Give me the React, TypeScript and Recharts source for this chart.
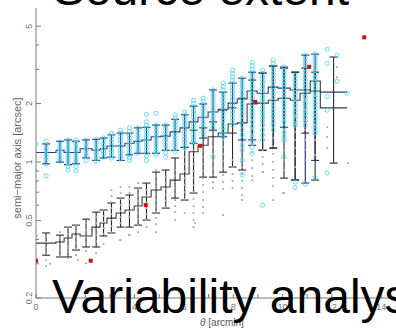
import React from "react";
import { ComposedChart, XAxis, YAxis, Scatter, Line, ErrorBar } from "recharts";

// bins in theta (arcmin)
const binEdges = [0, 0.81, 1.14, 1.46, 1.79, 2.27, 2.6, 2.88, 3.25, 3.61, 3.98, 4.3, 4.67, 5.07, 5.44, 5.84, 6.21, 6.57, 6.98, 7.39, 7.79, 8.16, 8.56, 8.97, 9.42, 9.82, 10.31, 10.71, 11.12, 11.53, 12.62];
const binCenters = [0.41, 0.97, 1.3, 1.62, 2.03, 2.44, 2.74, 3.06, 3.43, 3.79, 4.14, 4.48, 4.87, 5.26, 5.64, 6.03, 6.39, 6.78, 7.18, 7.59, 7.97, 8.36, 8.77, 9.19, 9.62, 10.06, 10.51, 10.92, 11.32, 12.07];

// extended sources (cyan / navy)
const extMedian = [1.12, 1.15, 1.12, 1.12, 1.17, 1.15, 1.17, 1.21, 1.21, 1.25, 1.28, 1.3, 1.35, 1.36, 1.43, 1.5, 1.61, 1.7, 1.81, 1.87, 2.01, 2.11, 2.32, 2.26, 2.43, 2.4, 2.35, 2.35, 2.32, 2.29];
const extHigh = [1.24, 1.28, 1.3, 1.28, 1.3, 1.31, 1.33, 1.38, 1.41, 1.41, 1.5, 1.51, 1.55, 1.55, 1.66, 1.75, 1.94, 1.99, 2.35, 2.29, 2.55, 2.7, 2.9, 2.87, 3.12, 3.08, 2.9, 3.55, 3.59, null];
const extLow = [0.98, 1.0, 0.97, 0.98, 1.05, 1.02, 1.05, 1.06, 1.02, 1.09, 1.11, 1.11, 1.11, 1.15, 1.15, 1.19, 1.25, 1.33, 1.46, 1.35, 1.41, 1.3, 1.3, 1.15, 1.18, 1.51, 0.81, 0.78, 1.02, null];

// point-like sources (gray / black)
const refMedian = [0.383, 0.388, 0.407, 0.427, 0.417, 0.463, 0.486, 0.515, 0.547, 0.567, 0.594, 0.661, 0.718, 0.744, 0.808, 0.868, 1.13, 1.22, 1.35, 1.41, 1.57, 1.59, 1.99, 2.01, 2.08, 2.13, 2.08, 2.26, 2.61, 1.9];
const refHigh = [0.432, 0.421, 0.463, 0.474, 0.509, 0.553, 0.567, 0.616, 0.653, 0.677, 0.735, 0.78, 0.888, 0.91, 1.05, 1.19, 1.46, 1.5, 1.61, 1.85, 1.9, 2.13, 2.64, 2.87, 3.12, 3.04, 2.9, 3.04, 2.9, 3.47];
const refLow = [0.332, 0.325, 0.325, 0.353, 0.366, 0.366, 0.417, 0.432, 0.463, 0.463, 0.474, 0.503, 0.547, 0.58, 0.653, 0.638, 0.693, 0.837, 0.837, 0.888, 0.943, 0.91, 1.22, 1.15, 1.18, 0.827, 0.808, 1.41, 0.808, 0.988];

const cyanColumns = [
  [1.28, 1.23, 1.18, 1.14, 1.1, 1.06, 1.02, 0.98, 0.85],
  [1.27, 1.22, 1.17, 1.13, 1.09, 1.05, 1.01],
  [1.3, 1.25, 1.2, 1.15, 1.11, 1.07, 1.03, 0.99, 0.95, 0.91],
  [1.3, 1.25, 1.2, 1.15, 1.11, 1.07, 1.03, 0.99, 0.95, 0.9],
  [1.3, 1.25, 1.2, 1.15, 1.11, 1.07, 1.02],
  [1.31, 1.26, 1.21, 1.16, 1.12, 1.08, 1.04, 1.01],
  [1.33, 1.28, 1.23, 1.18, 1.14, 1.1, 1.06],
  [1.41, 1.36, 1.31, 1.26, 1.21, 1.16, 1.12, 1.08, 1.05],
  [1.46, 1.4, 1.35, 1.3, 1.25, 1.2, 1.15, 1.11, 1.07, 1.04],
  [1.5, 1.44, 1.38, 1.33, 1.28, 1.23, 1.18, 1.13, 1.09, 1.05, 1.02],
  [1.5, 1.44, 1.38, 1.33, 1.28, 1.23, 1.18, 1.14, 1.11],
  [1.76, 1.61, 1.55, 1.49, 1.43, 1.37, 1.32, 1.27, 1.22, 1.17, 1.12, 1.07, 1.02],
  [1.78, 1.55, 1.49, 1.43, 1.37, 1.32, 1.27, 1.22, 1.17, 1.13, 1.09],
  [1.55, 1.49, 1.43, 1.37, 1.32, 1.27, 1.22, 1.17, 1.12, 1.06],
  [1.75, 1.68, 1.61, 1.55, 1.49, 1.43, 1.37, 1.32, 1.27, 1.22, 1.17, 1.13],
  [1.81, 1.74, 1.67, 1.6, 1.54, 1.48, 1.42, 1.36, 1.31, 1.26, 1.21, 1.18],
  [2.08, 2.0, 1.92, 1.84, 1.77, 1.7, 1.63, 1.57, 1.51, 1.45, 1.39, 1.34, 1.29, 1.25],
  [2.13, 2.05, 1.97, 1.89, 1.82, 1.75, 1.68, 1.61, 1.55, 1.49, 1.43, 1.38],
  [2.35, 2.26, 2.17, 2.08, 2.0, 1.92, 1.84, 1.77, 1.7, 1.63, 1.57, 1.51, 1.06],
  [2.55, 2.45, 2.35, 2.26, 2.17, 2.08, 2.0, 1.92, 1.84, 1.77, 1.7, 1.63, 1.57, 1.51, 1.45, 1.39, 1.35],
  [2.97, 2.85, 2.74, 2.63, 2.53, 2.43, 2.33, 2.24, 2.15, 2.07, 1.99, 1.91, 1.83, 1.76, 1.69, 1.62, 1.55],
  [2.7, 2.59, 2.49, 2.39, 2.29, 2.2, 2.11, 2.03, 1.95, 1.87, 1.8, 1.73, 1.64, 1.55, 1.46, 1.38, 1.3, 1.22, 1.15, 1.02, 0.86],
  [3.26, 3.13, 3.0, 2.88, 2.77, 2.66, 2.55, 2.45, 2.35, 2.26, 2.17, 2.08, 2.0, 1.92, 1.84, 1.77, 1.7, 1.61, 1.52, 1.43, 1.35, 1.27, 1.19, 1.11],
  [2.97, 2.85, 2.74, 2.63, 2.53, 2.43, 2.33, 2.24, 2.15, 2.07, 1.99, 1.91, 1.83, 1.76, 1.69, 1.62, 1.55, 1.46, 1.38, 1.3, 0.6],
  [3.35, 3.22, 3.09, 2.97, 2.85, 2.74, 2.63, 2.53, 2.43, 2.33, 2.24, 2.15, 2.07, 1.99, 1.91, 1.83, 1.76, 1.69, 1.62, 1.55, 1.46],
  [3.08, 2.96, 2.84, 2.73, 2.62, 2.52, 2.42, 2.32, 2.23, 2.14, 2.05, 1.97, 1.89, 1.81, 1.74, 1.67, 1.6, 1.51, 1.42, 1.35, 1.3, 1.06],
  [2.8, 2.69, 2.58, 2.48, 2.38, 2.28, 2.19, 2.1, 2.02, 1.94, 1.86, 1.79, 1.72, 1.65, 1.58, 1.55, 0.79, 0.74],
  [3.55, 3.41, 3.27, 3.14, 3.01, 2.89, 2.77, 2.66, 2.55, 2.45, 2.35, 2.26, 2.17, 2.08, 2.0, 1.92, 1.84, 1.77, 1.7, 1.63, 1.55, 0.77],
  [3.61, 3.47, 3.33, 3.2, 3.07, 2.95, 2.83, 2.72, 2.61, 2.51, 2.41, 2.31, 2.22, 2.13, 2.05, 1.97, 1.89, 1.81, 1.74, 1.67, 1.6, 1.53, 1.47, 1.41, 0.83],
  [],
];
const cyanExtra = [
  { x: 0, y: 1.24 }, { x: 11.81, y: 3.8 }, { x: 11.81, y: 3.22 }, { x: 11.81, y: 2.17 },
  { x: 11.81, y: 1.85 }, { x: 11.81, y: 0.88 }, { x: 12.21, y: 3.55 }, { x: 12.21, y: 2.6 },
  { x: 12.62, y: 2.26 },
];

const grayColumns = [
  [0.416, 0.388, 0.363, 0.339, 0.313, 0.292],
  [0.436, 0.407, 0.379, 0.353, 0.329],
  [0.458, 0.426, 0.397, 0.37, 0.345, 0.321],
  [0.474, 0.442, 0.412, 0.384, 0.357, 0.332],
  [0.486, 0.447, 0.412, 0.379, 0.349, 0.302],
  [0.521, 0.486, 0.452, 0.421, 0.392, 0.34],
  [0.567, 0.528, 0.491, 0.458, 0.426, 0.379],
  [0.718, 0.669, 0.622, 0.58, 0.54, 0.503, 0.468, 0.436],
  [0.744, 0.693, 0.645, 0.601, 0.56, 0.521, 0.486, 0.397],
  [0.744, 0.693, 0.645, 0.601, 0.56, 0.521, 0.421],
  [0.78, 0.727, 0.677, 0.631, 0.587, 0.547, 0.509, 0.474, 0.436],
  [0.718, 0.669, 0.622, 0.58, 0.54, 0.503, 0.463],
  [0.91, 0.849, 0.789, 0.735, 0.685, 0.638, 0.594, 0.553, 0.515, 0.48, 0.436],
  [0.837, 0.78, 0.727, 0.677, 0.631, 0.587],
  [0.91, 0.849, 0.789, 0.735, 0.685, 0.638, 0.594, 0.553, 0.503],
  [1.152, 1.061, 0.977, 0.899, 0.827, 0.762, 0.701, 0.645, 0.547],
  [1.252, 1.152, 1.061, 0.977, 0.899, 0.827, 0.762, 0.701, 0.645, 0.594, 0.547, 0.503, 0.463],
  [1.152, 1.061, 0.977, 0.899, 0.827, 0.762, 0.701, 0.638, 0.587, 0.547],
  [1.194, 1.099, 1.012, 0.931, 0.858, 0.789, 0.735],
  [1.297, 1.194, 1.099, 1.012, 0.931, 0.858, 0.789, 0.727, 0.534],
  [1.024, 0.943, 0.868, 0.799, 0.735],
  [1.024, 0.943, 0.868, 0.799, 0.735, 0.677, 0.638],
  [1.644, 1.496, 1.36, 1.237, 1.126, 1.024, 0.931, 0.847, 0.808],
  [1.152, 1.061, 0.977, 0.888],
  [1.329, 1.208, 1.099, 1.0, 0.91, 0.827, 0.752, 0.638],
  [2.084, 1.85, 1.644, 1.46, 1.297, 1.152, 1.024, 0.91, 0.693],
  [2.084, 1.895, 1.724, 1.568, 1.427, 1.297, 1.18, 1.074, 0.943],
  [2.084, 1.85, 1.644, 1.46, 1.297, 1.152, 1.024],
  [2.97, 2.64, 2.21, 1.85, 1.55, 1.297, 1.086],
  [],
];
const grayExtra = [
  { x: 0.04, y: 0.42 }, { x: 0.57, y: 0.3 }, { x: 1.7, y: 0.313 }, { x: 1.3, y: 0.36 },
  { x: 3.41, y: 0.397 }, { x: 3.77, y: 0.421 }, { x: 6.45, y: 0.486 }, { x: 11.81, y: 1.51 },
  { x: 11.81, y: 1.345 }, { x: 11.81, y: 1.18 }, { x: 12.21, y: 3.08 }, { x: 12.21, y: 2.73 },
  { x: 12.66, y: 0.988 }, { x: 10.02, y: 0.693 }, { x: 9.21, y: 0.888 },
];

const redPoints = [
  { x: 0, y: 0.311 }, { x: 2.22, y: 0.311 }, { x: 4.45, y: 0.601 }, { x: 6.66, y: 1.213 },
  { x: 8.89, y: 2.04 }, { x: 11.08, y: 3.09 }, { x: 13.31, y: 4.38 },
];

const xTicks = [0, 1, 2, 3, 4, 5, 6, 7, 8, 9, 10, 11, 12, 13, 14];
const yTicks = [0.2, 0.3, 0.4, 0.5, 0.6, 0.7, 0.8, 0.9, 1, 2, 3, 4, 5];
const yLabels = [0.2, 0.5, 1, 2, 5];

const AXIS = "#7a7a7a";
const LABEL = "#707070";
const FONT = "'Liberation Sans', Arial, sans-serif";

const stepData = (med: number[]) =>
  med.flatMap((m, i) => [
    { x: binEdges[i], y: m },
    { x: binEdges[i + 1], y: m },
  ]);

const barData = (med: number[], lo: (number | null)[], hi: (number | null)[]) =>
  med
    .map((m, i) => ({ x: binCenters[i], y: m, lo: lo[i], hi: hi[i] }))
    .filter((d) => d.lo != null && d.hi != null)
    .map((d) => ({ x: d.x, y: d.y, err: [d.y - (d.lo as number), (d.hi as number) - d.y] }));

const columnPoints = (cols: number[][]) =>
  cols.flatMap((col, i) => col.map((y) => ({ x: binCenters[i], y })));

const cyanPoints = [...columnPoints(cyanColumns), ...cyanExtra];
const grayPoints = [...columnPoints(grayColumns), ...grayExtra];

const Ring = (p: any) => (
  <circle cx={p.cx} cy={p.cy} r={2.1} fill="none" stroke="#3fd4f0" strokeWidth={0.9} strokeOpacity={0.85} />
);
const Dot = (p: any) => <rect x={p.cx - 0.9} y={p.cy - 0.9} width={1.8} height={1.8} fill="#a8a8a8" />;
const RedSquare = (p: any) => <rect x={p.cx - 2} y={p.cy - 2} width={4} height={4} fill="#cc1010" />;
const NoMark = () => <g />;

const BottomTick = ({ x, y, payload }: any) => (
  <g>
    <line x1={x} x2={x} y1={y} y2={y - 4} stroke={AXIS} strokeWidth={1} />
    {payload.value % 2 === 0 && (
      <text x={x} y={y + 12} textAnchor="middle" fontSize={9} fill={LABEL} fontFamily={FONT}>
        {payload.value}
      </text>
    )}
  </g>
);

const TopTick = ({ x, y }: any) => (
  <line x1={x} x2={x} y1={y} y2={y + 4} stroke={AXIS} strokeWidth={1} />
);

const LeftTick = ({ x, y, payload }: any) => {
  const major = yLabels.includes(payload.value);
  return (
    <g>
      <line x1={x} x2={x + (major ? 5 : 3)} y1={y} y2={y} stroke={AXIS} strokeWidth={1} />
      {major && (
        <text
          transform={`translate(${x - 4.5},${y}) rotate(-90)`}
          textAnchor="middle"
          fontSize={9}
          fill={LABEL}
          fontFamily={FONT}
        >
          {payload.value}
        </text>
      )}
    </g>
  );
};

export default function App() {
  return (
    <div style={{ position: "absolute", left: 0, top: 0, width: 396, height: 329, background: "#fff", overflow: "hidden" }}>
      <ComposedChart width={396} height={329} margin={{ top: 8, right: 0, bottom: 0, left: 0 }}>
        <XAxis
          dataKey="x"
          type="number"
          domain={[0, 14.6]}
          allowDataOverflow
          ticks={xTicks}
          interval={0}
          height={31}
          tickSize={0}
          tickMargin={0}
          tickLine={false}
          tick={<BottomTick />}
          axisLine={{ stroke: AXIS }}
        />
        <XAxis
          xAxisId="top"
          orientation="top"
          type="number"
          domain={[0, 14.6]}
          allowDataOverflow
          ticks={xTicks}
          interval={0}
          height={0}
          tickSize={0}
          tickMargin={0}
          tickLine={false}
          tick={<TopTick />}
          axisLine={{ stroke: AXIS }}
        />
        <YAxis
          dataKey="y"
          type="number"
          scale="log"
          domain={[0.2, 6.2]}
          allowDataOverflow
          ticks={yTicks}
          interval={0}
          width={36}
          tickSize={0}
          tickMargin={0}
          tickLine={false}
          tick={<LeftTick />}
          axisLine={{ stroke: AXIS }}
        />

        <Scatter data={grayPoints} dataKey="y" shape={Dot} isAnimationActive={false} />
        <Scatter data={cyanPoints} dataKey="y" shape={Ring} isAnimationActive={false} />

        <Line data={stepData(extMedian)} dataKey="y" type="linear" stroke="#2e3788" strokeWidth={1.1} dot={false} isAnimationActive={false} />
        <Scatter data={barData(extMedian, extLow, extHigh)} dataKey="y" shape={NoMark} isAnimationActive={false}>
          <ErrorBar dataKey="err" direction="y" width={4} stroke="#1f2670" strokeWidth={1.1} isAnimationActive={false} />
        </Scatter>

        <Line data={stepData(refMedian)} dataKey="y" type="linear" stroke="#3a3a3a" strokeWidth={1.1} dot={false} isAnimationActive={false} />
        <Scatter data={barData(refMedian, refLow, refHigh)} dataKey="y" shape={NoMark} isAnimationActive={false}>
          <ErrorBar dataKey="err" direction="y" width={4} stroke="#2a2a2a" strokeWidth={1.1} isAnimationActive={false} />
        </Scatter>

        <Scatter data={redPoints} dataKey="y" shape={RedSquare} isAnimationActive={false} />
      </ComposedChart>

      <svg width={396} height={329} style={{ position: "absolute", left: 0, top: 0, pointerEvents: "none" }}>
        <text x={21} y={158} transform="rotate(-90 21 158)" textAnchor="middle" fontSize={11} fill="#666" fontFamily={FONT}>
          semi−major axis [arcsec]
        </text>
        <text x={222} y={326} textAnchor="middle" fontSize={10} fill="#555" fontFamily={FONT}>
          <tspan fontStyle="italic">θ</tspan> [arcmin]
        </text>
        <text x={201} y={5} textAnchor="middle" fontSize={48} fill="#000" fontFamily={FONT}>
          Source extent
        </text>
        <text x={52} y={313} fontSize={48} fill="#000" fontFamily={FONT}>
          Variability analysis
        </text>
      </svg>
    </div>
  );
}
